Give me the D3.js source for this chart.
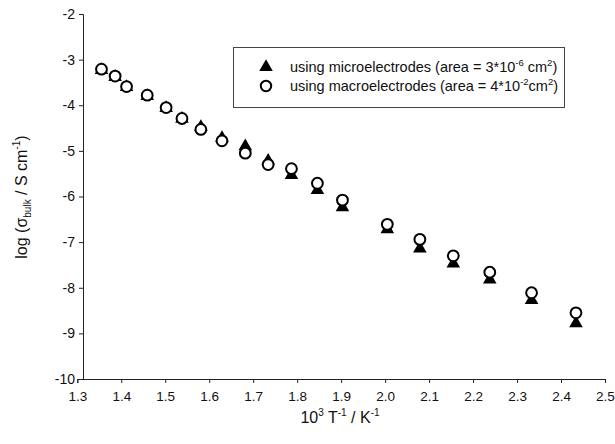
<!DOCTYPE html>
<html>
<head>
<meta charset="utf-8">
<script src="https://cdn.jsdelivr.net/npm/d3@7"></script>
<style>
  body { margin: 0; background: #fff; }
  svg { display: block; font-family: "Liberation Sans", Arial, sans-serif; }
</style>
</head>
<body>
<div id="chart"></div>
<script>
// 10^3 / T (K^-1)
const invT = [1.355, 1.386, 1.412, 1.459, 1.502, 1.538, 1.581, 1.629, 1.682, 1.734,
              1.787, 1.846, 1.903, 2.005, 2.079, 2.155, 2.238, 2.333, 2.434];
// log sigma, microelectrodes (triangles)
const logMicro = [-3.23, -3.38, -3.60, -3.80, -4.06, -4.30, -4.48, -4.72, -4.90, -5.22,
                  -5.53, -5.86, -6.24, -6.72, -7.14, -7.47, -7.82, -8.27, -8.78];
// log sigma, macroelectrodes (circles)
const logMacro = [-3.21, -3.36, -3.59, -3.78, -4.05, -4.29, -4.53, -4.78, -5.05, -5.30,
                  -5.39, -5.71, -6.08, -6.61, -6.94, -7.30, -7.66, -8.11, -8.55];
const xTicks = [1.3, 1.4, 1.5, 1.6, 1.7, 1.8, 1.9, 2.0, 2.1, 2.2, 2.3, 2.4, 2.5];
const yTicks = [-10, -9, -8, -7, -6, -5, -4, -3, -2];

const W = 615, H = 444;
const svg = d3.select("#chart").append("svg")
    .attr("width", W)
    .attr("height", H);

const x = d3.scaleLinear().domain([1.3, 2.5]).range([77.3, 605]);
const y = d3.scaleLinear().domain([-10, -2]).range([379, 14]);
const yAxisX = 83;

// axes
const gx = svg.append("g")
    .attr("transform", `translate(0,${y(-10)})`)
    .call(d3.axisBottom(x).tickValues(xTicks).tickFormat(d3.format(".1f")).tickSizeOuter(0).tickSize(4).tickPadding(8));

const gy = svg.append("g")
    .attr("transform", `translate(${yAxisX},0)`)
    .call(d3.axisLeft(y).tickValues(yTicks).tickFormat(d => d).tickSizeOuter(0).tickSize(4).tickPadding(4));

[gx, gy].forEach(g => {
    g.selectAll("path, line").attr("stroke", "#222");
    g.selectAll("text")
        .attr("fill", "#111")
        .style("font-size", "14px")
        .style("font-family", "'Liberation Sans', Arial, sans-serif");
});
gx.selectAll("text").style("font-size", "13.5px");
gy.selectAll("text").text(d => String(d).replace("\u2212", "-"));

// markers
const tri = d3.symbol().type(d3.symbolTriangle).size(80);

svg.append("g").selectAll("path")
    .data(invT.map((v, i) => ({ x: v, y: logMicro[i] })))
    .join("path")
    .attr("d", tri)
    .attr("transform", d => `translate(${x(d.x)},${y(d.y)})`)
    .attr("fill", "#000");

svg.append("g").selectAll("circle")
    .data(invT.map((v, i) => ({ x: v, y: logMacro[i] })))
    .join("circle")
    .attr("cx", d => x(d.x))
    .attr("cy", d => y(d.y))
    .attr("r", 5.4)
    .attr("fill", "#fff")
    .attr("stroke", "#000")
    .attr("stroke-width", 2);

// legend
const legend = svg.append("g");
legend.append("rect")
    .attr("x", 233.5).attr("y", 47.5)
    .attr("width", 331).attr("height", 60)
    .attr("fill", "#fff")
    .attr("stroke", "#444")
    .attr("stroke-width", 1);

legend.append("path")
    .attr("d", tri)
    .attr("transform", "translate(266,67)")
    .attr("fill", "#000");
legend.append("circle")
    .attr("cx", 266).attr("cy", 86).attr("r", 5.2)
    .attr("fill", "#fff").attr("stroke", "#000").attr("stroke-width", 2);

const t1 = legend.append("text").attr("x", 290).attr("y", 72).style("font-size", "14.5px").attr("fill", "#111");
t1.append("tspan").text("using microelectrodes (area = 3*10");
t1.append("tspan").attr("dy", -6).style("font-size", "9.5px").text("-6");
t1.append("tspan").attr("dy", 6).text(" cm");
t1.append("tspan").attr("dy", -6).style("font-size", "9.5px").text("2");
t1.append("tspan").attr("dy", 6).text(")");

const t2 = legend.append("text").attr("x", 290).attr("y", 91).style("font-size", "14.5px").attr("fill", "#111");
t2.append("tspan").text("using macroelectrodes (area = 4*10");
t2.append("tspan").attr("dy", -6).style("font-size", "9.5px").text("-2");
t2.append("tspan").attr("dy", 6).text("cm");
t2.append("tspan").attr("dy", -6).style("font-size", "9.5px").text("2");
t2.append("tspan").attr("dy", 6).text(")");

// axis titles
const xl = svg.append("text")
    .attr("x", 340).attr("y", 423)
    .attr("text-anchor", "middle")
    .style("font-size", "16px").attr("fill", "#111");
xl.append("tspan").text("10");
xl.append("tspan").attr("dy", -7).style("font-size", "10px").text("3");
xl.append("tspan").attr("dy", 7).text(" T");
xl.append("tspan").attr("dy", -7).style("font-size", "10px").text("-1");
xl.append("tspan").attr("dy", 7).text(" / K");
xl.append("tspan").attr("dy", -7).style("font-size", "10px").text("-1");

const yl = svg.append("text")
    .attr("transform", "translate(27,197) rotate(-90)")
    .attr("text-anchor", "middle")
    .style("font-size", "16px").attr("fill", "#111");
yl.append("tspan").text("log (\u03c3");
yl.append("tspan").attr("dy", 4).style("font-size", "10px").text("bulk");
yl.append("tspan").attr("dy", -4).text(" / S cm");
yl.append("tspan").attr("dy", -7).style("font-size", "10px").text("-1");
yl.append("tspan").attr("dy", 7).text(")");
</script>
</body>
</html>
